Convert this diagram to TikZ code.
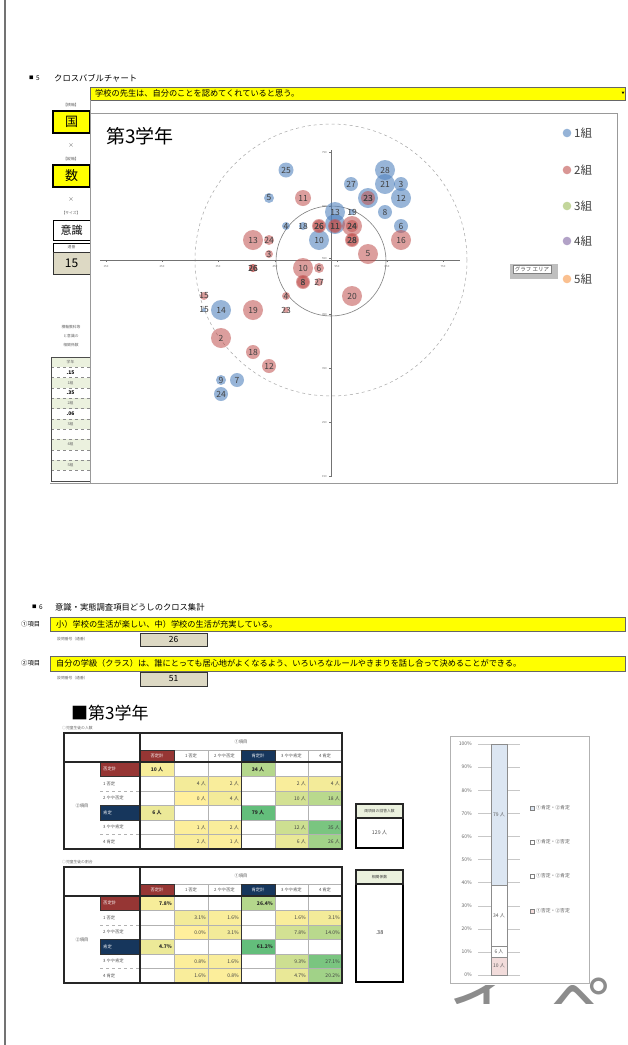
\documentclass[tikz,border=0pt]{standalone}
\usepackage{fontspec}
\setmainfont{Noto Sans CJK JP}
\usepackage{tikz}
\usetikzlibrary{positioning,calc}

\definecolor{qyellow}{HTML}{FFFF00}
\definecolor{qtan}{HTML}{DDD9C4}
\definecolor{qhead}{HTML}{EBF1DE}
\definecolor{kumiA}{HTML}{4F81BD}
\definecolor{kumiB}{HTML}{C0504D}
\definecolor{kumiC}{HTML}{9BBB59}
\definecolor{kumiD}{HTML}{8064A2}
\definecolor{kumiE}{HTML}{F79646}
\definecolor{negred}{HTML}{963634}
\definecolor{posnavy}{HTML}{16365C}
\definecolor{lowY}{HTML}{FFEF9C}
\definecolor{highG}{HTML}{63BE7B}
\definecolor{txtgray}{HTML}{404040}
\definecolor{barpink}{HTML}{F2DCDB}
\definecolor{barblue}{HTML}{DCE6F2}

\newcommand{\fsz}[1]{\fontsize{#1}{#1}\selectfont}

\tikzset{
    qbar/.style={draw=black!60, fill=qyellow, line width=.7pt},
    qtext/.style={anchor=west, inner sep=0pt, font=\fsz{8.2}},
    tanbox/.style={draw=black!80, fill=qtan, line width=1pt},
    keybox/.style={draw=black, fill=qyellow, line width=1.1pt},
    plainbox/.style={draw=black, fill=white, line width=1pt},
    minilab/.style={inner sep=0pt, font=\fsz{3.8}, text=black!60},
    bubA/.style={fill=kumiA, fill opacity=.58},
    bubB/.style={fill=kumiB, fill opacity=.55},
    blab/.style={inner sep=0pt, font=\fsz{8.5}, text=txtgray},
    ticklab/.style={inner sep=0pt, font=\fsz{2.8}, text=black!55},
    thingrid/.style={draw=black!30, line width=.3pt},
    tabframe/.style={draw=black!85, line width=1.1pt},
    cellval/.style={inner sep=0pt, font=\fsz{5}, text=black!75},
    celltot/.style={inner sep=0pt, font=\bfseries\fsz{5}, text=black!85},
    hdr/.style={inner sep=0pt, font=\fsz{4.3}, text=black!70},
    hdrw/.style={inner sep=0pt, font=\fsz{4.3}, text=white},
}

% frame of one cross table, #1 = prefix of node names
\newcommand{\crossframe}[1]{%
    \fill[negred] (140,750) rectangle (174,762);
    \fill[posnavy] (241,750) rectangle (275,762);
    \fill[negred] (100,762) rectangle (140,776.5);
    \fill[posnavy] (100,805.5) rectangle (140,820);
    \foreach \yy in {750,776.5,791,805.5,820,834.5} {\draw[thingrid] (140,\yy) -- (342,\yy);}
    \foreach \xx in {174,208,241,275,308} {\draw[thingrid] (\xx,750) -- (\xx,849);}
    \foreach \yy in {791,834.5} {\draw[thingrid, dashed] (100,\yy) -- (140,\yy);}
    \draw[black!80, line width=.7pt] (241,750) -- (241,849);
    \draw[black!80, line width=.7pt] (100,805.5) rectangle (140,820);
    \draw[black!80, line width=.7pt] (100,762) rectangle (140,776.5);
    \draw[black!80, line width=.7pt] (241,750) rectangle (275,762);
    \draw[black!80, line width=.7pt] (140,750) rectangle (174,762);
    \draw[tabframe] (64,733) rectangle (342,849);
    \draw[tabframe] (140,733) -- (140,849);
    \draw[tabframe] (64,762) -- (342,762);
    \node[hdr] (#1top) at (241,741.5) {①項目};
    \node[hdrw] (#1hn) at (157,756) {否定計};
    \node[hdr] (#1ha) at (191,756) {1\ 否定};
    \node[hdr] (#1hb) at (224.5,756) {2\ やや否定};
    \node[hdrw] (#1hp) at (258,756) {肯定計};
    \node[hdr] (#1hc) at (291.5,756) {3\ やや肯定};
    \node[hdr] (#1hd) at (325,756) {4\ 肯定};
    \node[hdr] (#1side) at (82,805.5) {②項目};
    \node[hdrw, anchor=west] (#1rn) at (103,769.25) {否定計};
    \node[hdr, anchor=west] (#1ra) at (103,783.75) {1\ 否定};
    \node[hdr, anchor=west] (#1rb) at (103,798.25) {2\ やや否定};
    \node[hdrw, anchor=west] (#1rp) at (103,812.75) {肯定};
    \node[hdr, anchor=west] (#1rc) at (103,827.25) {3\ やや肯定};
    \node[hdr, anchor=west] (#1rd) at (103,841.75) {4\ 肯定};
}

\def\bluelist{286/170/7.5/25, 385/170/10/28, 351/184/7/27, 385/184/10/21, 401/184/7/3,
    368/198/10/23, 401/198/10/12, 269/198/5/5, 335/212/10/13, 352/212/3/19, 385/212/7/8,
    286/226/4/4, 303/226/4/18, 335/224/10/{}, 401/226/7/6, 319/240/10/10, 204/310/2/15,
    221/310/10/14, 221/380/5/9, 237/380/7/7, 221/394/7/24}
\def\redlist{303/198/8/11, 368/198/7/23, 319/226/7/26, 319/226/6/26, 335/226/7/11, 335/226/6/11,
    352/226/10/24, 352/226/6/24, 253/240/10/13, 269/240/5/24, 352/240/7/28, 352/240/6/28,
    401/240/10/16, 269/254/4/3, 368/254/10/5, 253/268/4/26, 253/268/4/26, 303/268/10/10,
    319/268/5/6, 303/282/7/8, 303/282/6/8, 319/282/4/27, 352/296/10/20, 286/296/4/4,
    204/296/4/15, 253/310/10/19, 286/310/3/23, 221/338/10/2, 253/352/7/18, 269/366/7/12}

\begin{document}
\begin{tikzpicture}[x=1pt, y=-1pt]
    \useasboundingbox (0,0) rectangle (628,1045);
    \fill[white] (0,0) rectangle (628,1045);
    \draw[black!55, line width=1.3pt] (5,0) -- (5,1045);
    %
    % ---- 5 cross bubble chart
    \node[anchor=west, inner sep=0pt, font=\fsz{4.5}] (s5mark) at (29,78) {■};
    \node[anchor=west, inner sep=0pt, font=\fsz{6.5}] (s5num) at (36,78) {5};
    \node[anchor=west, inner sep=0pt, font=\fsz{8.3}] (s5title) at (54,78) {クロスバブルチャート};
    \draw[qbar] (90,87) rectangle (625,100);
    \node[qtext] (q5) at (95,93.5) {学校の先生は、自分のことを認めてくれていると思う。};
    \node[inner sep=0pt, font=\fsz{3}] (q5drop) at (623,93.5) {▼};
    %
    \node[minilab] (hlab) at (71,105) {【横軸】};
    \draw[keybox] (53,111) rectangle (90,133);
    \node[inner sep=0pt, font=\fsz{13}] (hkey) at (71.5,122) {国};
    \node[minilab, font=\fsz{5.5}] (xa) at (71,146) {×};
    \node[minilab] (vlab) at (71,159) {【縦軸】};
    \draw[keybox] (53,165) rectangle (90,187);
    \node[inner sep=0pt, font=\fsz{13}] (vkey) at (71.5,176) {数};
    \node[minilab, font=\fsz{5.5}] (xb) at (71,200) {×};
    \node[minilab] (slab) at (71,213) {【サイズ】};
    \draw[plainbox] (53,220) rectangle (90,240);
    \node[inner sep=0pt, font=\fsz{11}] (skey) at (71.5,230) {意識};
    \draw[plainbox] (53,243) rectangle (90,252);
    \node[minilab] (tlab) at (71.5,247.5) {通番};
    \draw[tanbox] (53,252) rectangle (90,274);
    \node[inner sep=0pt, font=\fsz{12}] (tnum) at (71.5,263) {15};
    \node[minilab] (ca) at (71,327) {横軸教科等};
    \node[minilab] (cb) at (71,336) {と意識の};
    \node[minilab] (cc) at (71,345) {相関係数};
    % small table of coefficients
    \foreach \k/\lab in {0/学年,2/1組,4/2組,6/3組,8/4組,10/5組} {
        \fill[qhead] (51,{357+10.3*\k}) rectangle (90,{357+10.3*(\k+1)});
        \node[minilab] (kh\k) at (70.5,{357+10.3*(\k+.5)}) {\lab};
    }
    \foreach \k/\lab in {1/.15,3/.35,5/.06,7/{},9/{},11/{}} {
        \node[inner sep=0pt, font=\bfseries\fsz{5}] (kv\k) at (70.5,{357+10.3*(\k+.5)}) {\lab};
    }
    \foreach \k in {1,...,11} {\draw[black!45, dashed, line width=.3pt] (51,{357+10.3*\k}) -- (90,{357+10.3*\k});}
    \draw[black!70, line width=.6pt] (51,357) rectangle (90,481);
    %
    % chart panel
    \draw[black!40, line width=.6pt] (90,100) -- (90,483) -- (617,483) -- (617,113) -- (90,113);
    \draw[black!40, line width=.6pt] (50,483) -- (90,483);
    \node[anchor=west, inner sep=0pt, font=\fsz{19}] (ctitle) at (106,136) {第3学年};
    \draw[black!35, dashed, line width=.5pt] (331,260) circle[radius=136pt];
    \draw[black!50, line width=.6pt] (331,261) circle[radius=55pt];
    \draw[black!55, line width=.5pt] (331,150) -- (331,477);
    \draw[black!55, line width=.5pt] (100,260) -- (460,260);
    \foreach \v/\yy in {750/152,650/206,550/258,450/314,350/368,250/422,150/476} {
        \draw[black!55, line width=.4pt] (329,\yy) -- (331,\yy);
        \node[ticklab, anchor=east] (vt\v) at (327,\yy) {\v};
    }
    \foreach \v/\xx in {150/106,250/162,350/218,450/275,550/337,650/387,750/443} {
        \draw[black!55, line width=.4pt] (\xx,260) -- (\xx,262);
        \node[ticklab] (ht\v) at (\xx,266) {\v};
    }
    % bubbles
    \foreach \bx/\by/\br/\bl in \bluelist {\fill[bubA] (\bx,\by) circle[radius=\br pt];}
    \foreach \bx/\by/\br/\bl in \redlist {\fill[bubB] (\bx,\by) circle[radius=\br pt];}
    \foreach \bx/\by/\br/\bl [count=\k] in \bluelist {\node[blab] (la\k) at (\bx,\by) {\bl};}
    \foreach \bx/\by/\br/\bl [count=\k] in \redlist {\node[blab] (lb\k) at (\bx,\by) {\bl};}
    % legend
    \foreach \col/\yy/\lab [count=\k] in {kumiA/133/1組, kumiB/170/2組, kumiC/206/3組, kumiD/241/4組, kumiE/279/5組} {
        \fill[\col, fill opacity=.6] (567,\yy) circle[radius=4.3pt];
        \node[anchor=west, inner sep=0pt, font=\fsz{11.5}, text=txtgray] (leg\k) at (574,\yy) {\lab};
    }
    \fill[black!25] (510,264) rectangle (558,279);
    \node[draw=black!50, fill=white, inner sep=1.6pt, font=\fsz{5.5}, text=black!70] (tip) at (532,269.5) {グラフ エリア};
    %
    % ---- 6 cross tabulation
    \node[anchor=west, inner sep=0pt, font=\fsz{4.5}] (s6mark) at (32,607) {■};
    \node[anchor=west, inner sep=0pt, font=\fsz{6.5}] (s6num) at (39,607) {6};
    \node[anchor=west, inner sep=0pt, font=\fsz{8.3}] (s6title) at (55,607) {意識・実態調査項目どうしのクロス集計};
    \node[anchor=west, inner sep=0pt, font=\fsz{6.3}] (itemA) at (21,624) {①項目};
    \draw[qbar] (50,617) rectangle (625,631);
    \node[qtext] (qa) at (56,624) {小）学校の生活が楽しい、中）学校の生活が充実している。};
    \node[anchor=west, minilab] (numA) at (57,639) {設問番号（通番）};
    \draw[tanbox] (140,633) rectangle (207,646);
    \node[inner sep=0pt, font=\fsz{8.5}] (na) at (173.5,639.5) {26};
    \node[anchor=west, inner sep=0pt, font=\fsz{6.3}] (itemB) at (21,663.5) {②項目};
    \draw[qbar] (50,656) rectangle (625,671);
    \node[qtext] (qb) at (56,663.5) {自分の学級（クラス）は、誰にとっても居心地がよくなるよう、いろいろなルールやきまりを話し合って決めることができる。};
    \node[anchor=west, minilab] (numB) at (57,678.5) {設問番号（通番）};
    \draw[tanbox] (140,672) rectangle (207,686);
    \node[inner sep=0pt, font=\fsz{8.5}] (nb) at (173.5,679) {51};
    %
    \node[anchor=west, inner sep=0pt, font=\fsz{17}] (gtitle) at (71,713) {■第3学年};
    \node[anchor=west, minilab] (capA) at (62,728) {○児童生徒の人数};
    % counts
    \foreach \xl/\xr/\yt/\v/\p in {140/174/762/10 人/5, 241/275/762/34 人/48, 140/174/805.5/6 人/12, 241/275/805.5/79 人/100} {
        \fill[highG!\p!lowY] (\xl,\yt) rectangle (\xr,\yt+14.5);
        \node[celltot] at ({(\xl+\xr)/2},{\yt+7.25}) {\v};
    }
    \foreach \xl/\xr/\yt/\v/\p in {174/208/776.5/4 人/8, 208/241/776.5/2 人/4, 275/308/776.5/2 人/4, 308/342/776.5/4 人/8,
        174/208/791/0 人/0, 208/241/791/4 人/8, 275/308/791/10 人/28, 308/342/791/18 人/45,
        174/208/820/1 人/2, 208/241/820/2 人/4, 275/308/820/12 人/32, 308/342/820/35 人/85,
        174/208/834.5/2 人/4, 208/241/834.5/1 人/2, 275/308/834.5/6 人/14, 308/342/834.5/26 人/60} {
        \fill[highG!\p!lowY] (\xl,\yt) rectangle (\xr,\yt+14.5);
        \node[cellval, anchor=east] at (\xr-2,\yt+7.25) {\v};
    }
    \crossframe{ta}
    \draw[plainbox, line width=1.1pt] (356,804) rectangle (403,848);
    \draw[black!85, fill=qhead, line width=1.1pt] (356,804) rectangle (403,818);
    \node[minilab, text=black!75] (bothh) at (379.5,811) {両項目の回答人数};
    \node[inner sep=0pt, font=\fsz{5.2}, text=black!70] (both) at (379.5,833) {129 人};
    %
    \node[anchor=west, minilab] (capB) at (62,862) {○児童生徒の割合};
    % ratios
    \begin{scope}[yshift=-134pt]
        \foreach \xl/\xr/\yt/\v/\p in {140/174/762/7.8\%/5, 241/275/762/26.4\%/48, 140/174/805.5/4.7\%/12, 241/275/805.5/61.2\%/100} {
            \fill[highG!\p!lowY] (\xl,\yt) rectangle (\xr,\yt+14.5);
            \node[celltot, anchor=east] at (\xr-2,\yt+7.25) {\v};
        }
        \foreach \xl/\xr/\yt/\v/\p in {174/208/776.5/3.1\%/8, 208/241/776.5/1.6\%/4, 275/308/776.5/1.6\%/4, 308/342/776.5/3.1\%/8,
            174/208/791/0.0\%/0, 208/241/791/3.1\%/8, 275/308/791/7.8\%/28, 308/342/791/14.0\%/45,
            174/208/820/0.8\%/2, 208/241/820/1.6\%/4, 275/308/820/9.3\%/32, 308/342/820/27.1\%/85,
            174/208/834.5/1.6\%/4, 208/241/834.5/0.8\%/2, 275/308/834.5/4.7\%/14, 308/342/834.5/20.2\%/60} {
            \fill[highG!\p!lowY] (\xl,\yt) rectangle (\xr,\yt+14.5);
            \node[cellval, anchor=east] at (\xr-2,\yt+7.25) {\v};
        }
        \crossframe{tb}
    \end{scope}
    \draw[plainbox, line width=1.1pt] (356,870) rectangle (403,982);
    \draw[black!85, fill=qhead, line width=1.1pt] (356,870) rectangle (403,884);
    \node[minilab, text=black!75] (corrh) at (379.5,877) {相関係数};
    \node[inner sep=0pt, font=\fsz{5.5}, text=black!80] (corr) at (379.5,933) {.38};
    %
    % stacked bar
    \draw[black!30, line width=.8pt] (450,736) rectangle (589,983);
    \foreach \p in {0,10,...,100} {
        \draw[black!22, line width=.4pt] (478,{975-2.31*\p}) -- (520,{975-2.31*\p});
        \node[anchor=east, inner sep=0pt, font=\fsz{5}, text=black!60] (yl\p) at (472,{975-2.31*\p}) {\p\%};
    }
    \draw[black!45, fill=barpink] (491,975) rectangle (507,957.1);
    \draw[black!45, fill=white] (491,957.1) rectangle (507,946.4);
    \draw[black!45, fill=white] (491,946.4) rectangle (507,885.4);
    \draw[black!45, fill=barblue] (491,885.4) rectangle (507,744);
    \node[inner sep=0pt, font=\fsz{5}, text=black!65] (sa) at (499,966) {10 人};
    \node[inner sep=0pt, font=\fsz{5}, text=black!65] (sb) at (499,951.7) {6 人};
    \node[inner sep=0pt, font=\fsz{5}, text=black!65] (sc) at (499,916) {34 人};
    \node[inner sep=0pt, font=\fsz{5}, text=black!65] (sd) at (499,814.7) {79 人};
    \foreach \yy/\lab/\col [count=\k] in {808/①肯定・②肯定/barblue, 842/①肯定・②否定/white, 876/①否定・②肯定/white, 911/①否定・②否定/barpink} {
        \draw[black!50, fill=\col, line width=.4pt] (530,\yy-2) rectangle (534,\yy+2);
        \node[anchor=west, inner sep=0pt, font=\fsz{4.8}, text=black!65] (lg\k) at (536,\yy) {\lab};
    }
    %
    % large clipped glyphs at the bottom
    \begin{scope}
        \clip (440,985) rectangle (628,1003) (590,960) rectangle (628,1003);
        \node[inner sep=0pt, font=\fsz{70}, text=black!45] (bga) at (483,998) {イ};
        \node[inner sep=0pt, font=\fsz{70}, text=black!45] (bgb) at (579,1003) {ペ};
    \end{scope}
\end{tikzpicture}
\end{document}
